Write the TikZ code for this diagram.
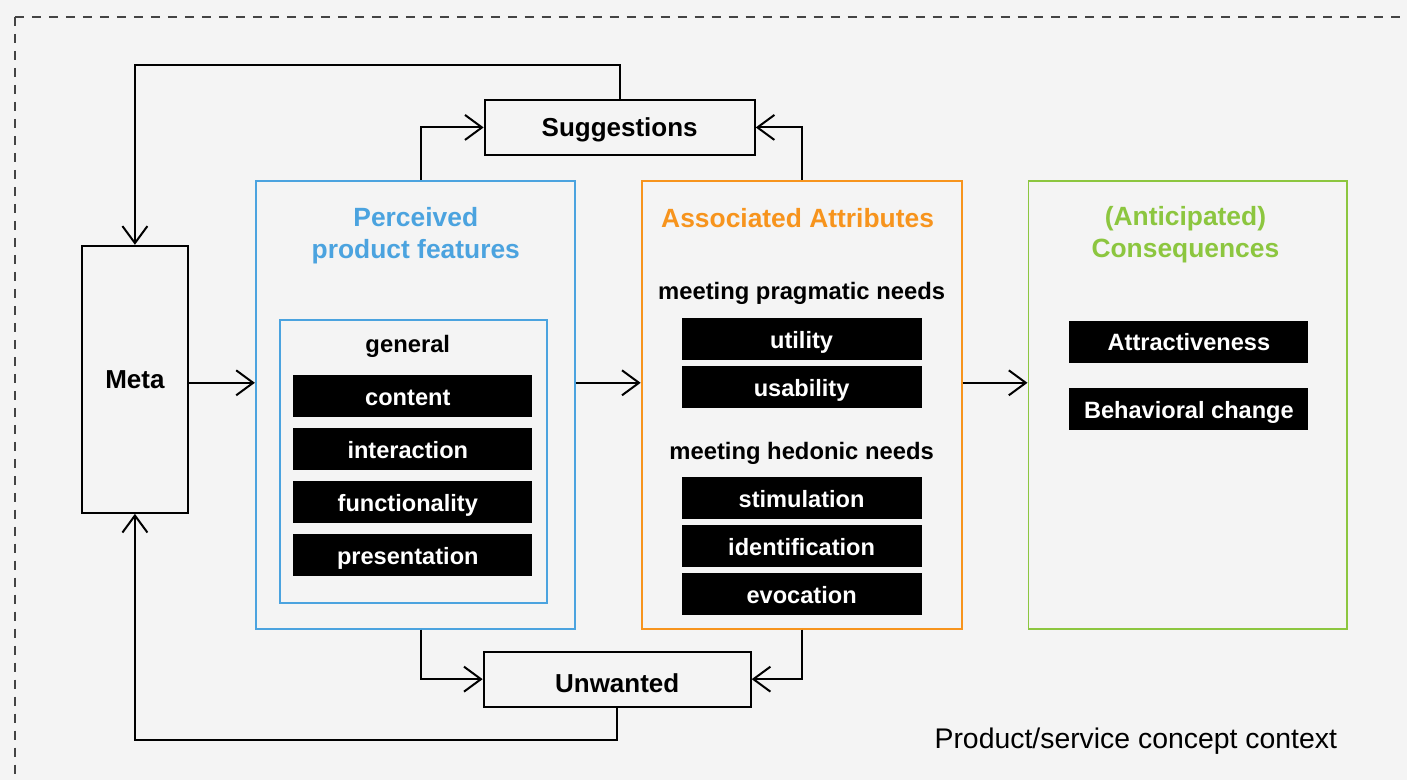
\documentclass[tikz,border=0pt]{standalone}
\usepackage{fontspec}
\setmainfont{Liberation Sans}
\usetikzlibrary{arrows.meta,positioning}
\definecolor{pblue}{HTML}{4BA3DF}
\definecolor{aorange}{HTML}{F7941D}
\definecolor{cgreen}{HTML}{8CC63F}
\definecolor{bgc}{HTML}{F4F4F4}
\definecolor{dashc}{HTML}{444444}
\tikzset{
  box/.style={draw,line width=1.1pt,fill=bgc,inner sep=0pt,text height=9.3pt,text depth=0pt,
    font=\fontsize{13}{15}\selectfont\bfseries},
  panel/.style={draw=#1,line width=1pt,inner sep=0pt,minimum width=159.5pt,minimum height=224pt},
  bar/.style={fill=black,text=white,inner sep=0pt,minimum width=119.5pt,minimum height=21pt,
    text height=9pt,text depth=0pt,font=\fontsize{11.8}{14}\selectfont\bfseries},
  head/.style={text=#1,align=center,font=\fontsize{13.2}{16}\selectfont\bfseries},
  sub/.style={font=\fontsize{11.9}{14}\selectfont\bfseries},
  arr/.style={-{Straight Barb[length=8.5pt,width=12.5pt]},line width=1pt}
}
\begin{document}
\begin{tikzpicture}[x=0.5pt,y=-0.5pt]
  % background and context border
  \fill[bgc] (0,0) rectangle (1408,780);
  \draw[dashc,line width=0.7pt,dash pattern=on 4.5pt off 4pt] (15,17) -- (1408,17);
  \draw[dashc,line width=0.7pt,dash pattern=on 4.5pt off 4pt] (15,17) -- (15,780);
  \node[anchor=west,font=\fontsize{14.2}{17}\selectfont] (context) at (928,742) {Product/service concept context};

  % main boxes
  \node[box,minimum width=53pt,minimum height=133.5pt] (meta) at (135,379.5) {Meta};
  \node[box,minimum width=135pt,minimum height=27.5pt] (sugg) at (620,127.5) {Suggestions};
  \node[box,minimum width=133.5pt,minimum height=27.5pt,text height=13pt] (unwanted) at (617.5,679.5) {Unwanted};

  \node[panel=pblue] (perceived) at (415.5,405) {};
  \node[panel=aorange,minimum width=160pt] (attributes) at (802,405) {};
  \node[panel=cgreen] (consequences) at (1188.5,405.5) {};

  % perceived product features
  \node[head=pblue] (pftitle) at (416,236) {Perceived\\product features};
  \node[panel=pblue,minimum width=133.5pt,minimum height=141.5pt] (general) at (413.5,461.5) {};
  \node[sub] (gentitle) at (408,347) {general};
  \foreach \lbl [count=\i] in {content,interaction,functionality,presentation}
    \node[bar] (gen\i) at (412.5,{343.5+53*\i}) {\hspace*{-4.5pt}\lbl};

  % associated attributes
  \node[head=aorange] (aatitle) at (798,218) {Associated Attributes};
  \node[sub] (pragtitle) at (802,294) {meeting pragmatic needs};
  \node[sub] (hedtitle) at (802,454) {meeting hedonic needs};
  \foreach \lbl [count=\i] in {utility,usability}
    \node[bar,minimum width=120pt] (prag\i) at (802,{291.5+48*\i}) {\lbl};
  \foreach \lbl [count=\i] in {stimulation,identification,evocation}
    \node[bar,minimum width=120pt] (hed\i) at (802,{450.5+48*\i}) {\lbl};

  % consequences
  \node[head=cgreen] (actitle) at (1186,235) {(Anticipated)\\Consequences};
  \node[bar] (attract) at (1189.5,342) {Attractiveness};
  \node[bar] (behav) at (1189.5,409.5) {Behavioral change};

  % flow
  \coordinate (flow) at (0,383);
  \draw[arr] (meta.east |- flow) -- (perceived.west |- flow);
  \draw[arr] (perceived.east |- flow) -- (attributes.west |- flow);
  \draw[arr] (attributes.east |- flow) -- (consequences.west |- flow);

  % feedback loops
  \draw[arr] ([xshift=2.75pt]perceived.north) |- (sugg.west);
  \draw[arr] (attributes.north) |- (sugg.east);
  \draw[arr] (sugg.north) -- ++(0,-34) -| (meta.north);
  \draw[arr] ([xshift=2.75pt]perceived.south) |- (unwanted.west);
  \draw[arr] (attributes.south) |- (unwanted.east);
  \draw[arr] (unwanted.south) -- ++(0,32) -| (meta.south);
\end{tikzpicture}
\end{document}
